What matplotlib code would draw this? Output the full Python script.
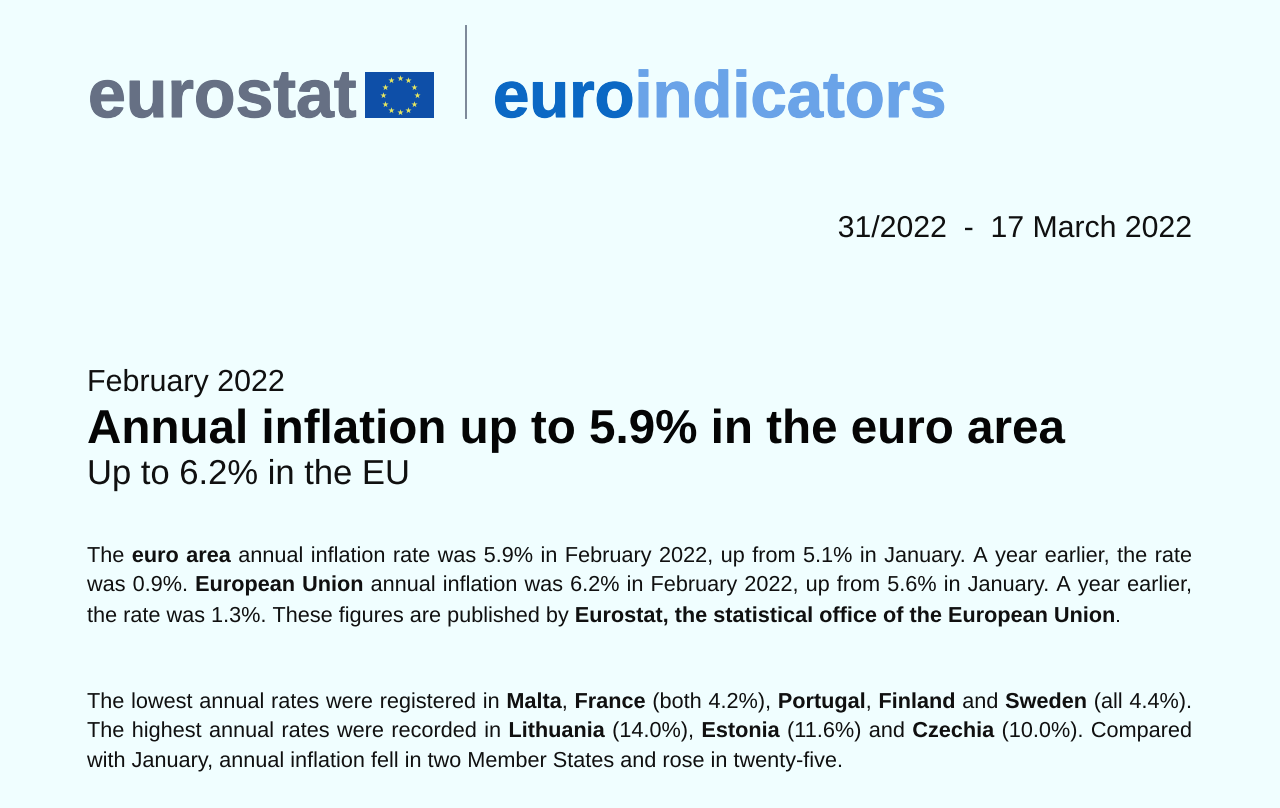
import numpy as np
import matplotlib
matplotlib.use("Agg")
import matplotlib.pyplot as plt
from matplotlib.patches import Rectangle
from matplotlib.font_manager import FontProperties
from matplotlib.textpath import text_to_path
import matplotlib.patheffects as pe

plt.rcParams["text.hinting"] = "no_hinting"
plt.rcParams["text.hinting_factor"] = 1
plt.rcParams["text.kerning_factor"] = 0

BG = "#F0FEFF"
W, H = 1280, 808
FONT = "Liberation Sans"

# Each paragraph line is a list of (text, bold) runs, justified between left and right edges
para1 = [
    [("The ", 0), ("euro area", 1), (" annual inflation rate was 5.9% in February 2022, up from 5.1% in January. A year earlier, the rate", 0)],
    [("was 0.9%. ", 0), ("European Union", 1), (" annual inflation was 6.2% in February 2022, up from 5.6% in January. A year earlier,", 0)],
    [("the rate was 1.3%. These figures are published by ", 0), ("Eurostat, the statistical office of the European Union", 1), (".", 0)],
]
para2 = [
    [("The lowest annual rates were registered in ", 0), ("Malta", 1), (", ", 0), ("France", 1), (" (both 4.2%), ", 0), ("Portugal", 1), (", ", 0), ("Finland", 1), (" and ", 0), ("Sweden", 1), (" (all 4.4%).", 0)],
    [("The highest annual rates were recorded in ", 0), ("Lithuania", 1), (" (14.0%), ", 0), ("Estonia", 1), (" (11.6%) and ", 0), ("Czechia", 1), (" (10.0%). Compared", 0)],
    [("with January, annual inflation fell in two Member States and rose in twenty-five.", 0)],
]

fig = plt.figure(figsize=(W / 100, H / 100), dpi=100, facecolor=BG)
ax = fig.add_axes([0, 0, 1, 1])
ax.set_xlim(0, W)
ax.set_ylim(H, 0)
ax.axis("off")


def put(x, y, s, size, bold=False, color="#101010"):
    t = ax.text(x, y, s, fontsize=size, family=FONT, fontweight="bold" if bold else "normal",
                color=color, ha="left", va="baseline")
    # Drawn through the path route so that every word sits on the exact baseline
    t.set_path_effects([pe.Normal()])
    return t


def adv(s, size, bold=False):
    """Advance width in pixels, as the path route lays the string out."""
    fp = FontProperties(family=FONT, size=size, weight="bold" if bold else "normal")
    return text_to_path.get_text_width_height_descent(s, fp, False)[0] * 100 / 72


def line(runs, y, size, x0, x1=None):
    """Draw mixed regular/bold runs on one baseline; justify to x1 by stretching word gaps."""
    words = []
    for text, b in runs:
        parts = text.split(" ")
        for i, p in enumerate(parts):
            if i > 0:
                words.append(None)
            if p:
                words.append((p, bool(b)))
    total = sum(adv(w[0], size, w[1]) for w in words if w is not None)
    n_gaps = words.count(None)
    space = 0.278 * size * 100 / 72
    gap = space if x1 is None else (x1 - x0 - total) / max(n_gaps, 1)
    x = x0
    for w in words:
        if w is None:
            x += gap
        else:
            put(x, y, w[0], size, w[1])
            x += adv(w[0], size, w[1])


# Logo
t0 = put(88, 117, "eurostat", 49, True, "#667084")
t0.set_path_effects([pe.withStroke(linewidth=0.8, foreground="#667084")])
ax.add_patch(Rectangle((365, 72), 69, 46, fc="#0E4FA8", ec="none"))
ang = np.arange(12) * 2 * np.pi / 12
ax.scatter(399.5 + 17 * np.sin(ang), 95 - 17 * np.cos(ang), marker="*", s=22, c="#E8E860", linewidths=0, zorder=3)
ax.plot([465.5, 465.5], [26, 118], color="#7B8798", lw=1.4)
t = put(493, 117, "euro", 47, True, "#0B68C4")
t.set_path_effects([pe.withStroke(linewidth=0.8, foreground="#0B68C4")])
t2 = put(493 + adv("euro", 47, True), 117, "indicators", 47, True, "#6AA3E8")
t2.set_path_effects([pe.withStroke(linewidth=0.8, foreground="#6AA3E8")])

# Date
date_txt = "31/2022  -  17 March 2022"
put(1192 - adv(date_txt, 21.75), 237, date_txt, 21.75)

# Headline block
put(87, 391, "February 2022", 21.9)
put(87, 443, "Annual inflation up to 5.9% in the euro area", 34.25, True, "#050505")
put(87, 484, "Up to 6.2% in the EU", 24.9)

# Body
for i, (runs, y) in enumerate(zip(para1, [562, 591, 622])):
    line(runs, y, 15.6, 87, 1192 if i < 2 else None)
for i, (runs, y) in enumerate(zip(para2, [708, 737, 767])):
    line(runs, y, 15.6, 87, 1192 if i < 2 else None)

fig.savefig("out.png", dpi=100, facecolor=BG)
